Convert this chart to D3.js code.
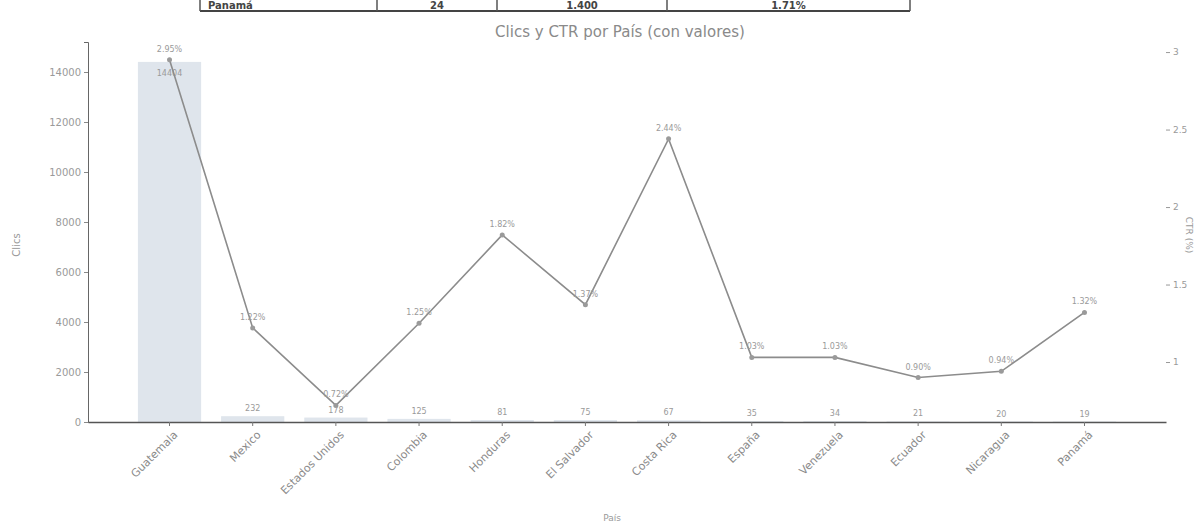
<!DOCTYPE html>
<html>
<head>
<meta charset="utf-8">
<script src="https://cdn.jsdelivr.net/npm/d3@7"></script>
<style>
  html, body { margin: 0; padding: 0; background: #fff; }
  svg { display: block; font-family: "DejaVu Sans", Verdana, sans-serif; }
</style>
</head>
<body>
<svg id="chart" width="1196" height="528"></svg>
<script>
// ---- data ----
const countries = ["Guatemala", "Mexico", "Estados Unidos", "Colombia", "Honduras", "El Salvador",
                   "Costa Rica", "España", "Venezuela", "Ecuador", "Nicaragua", "Panamá"];
const clics = [14404, 232, 178, 125, 81, 75, 67, 35, 34, 21, 20, 19];
const ctr = [2.95, 1.22, 0.72, 1.25, 1.82, 1.37, 2.44, 1.03, 1.03, 0.90, 0.94, 1.32];
const clicsTicks = [0, 2000, 4000, 6000, 8000, 10000, 12000, 14000];
const ctrTicks = [1, 1.5, 2, 2.5, 3];
const tableRow = ["Panamá", "24", "1.400", "1.71%"];

(function () {
const svg = d3.select("#chart");
const mLeft = 88, mRight = 1166, mTop = 42, mBottom = 422;

const x = d3.scaleBand().domain(countries).range([mLeft, mRight]).paddingInner(0.24).paddingOuter(0.6);
const yL = d3.scaleLinear().domain([0, 15200]).range([mBottom, mTop]);
const yR = d3.scaleLinear().domain([0.613, 3.065]).range([mBottom, mTop]);

const textCol = "#9a9a9a";

// partial table row at top
const cols = [200, 377, 497, 667, 910];
const tbl = svg.append("g");
tbl.append("line").attr("x1", cols[0]).attr("x2", cols[4]).attr("y1", 11).attr("y2", 11)
  .attr("stroke", "#444").attr("stroke-width", 2);
cols.forEach(c => tbl.append("line").attr("x1", c).attr("x2", c).attr("y1", 0).attr("y2", 11)
  .attr("stroke", "#555").attr("stroke-width", 1.5));
tableRow.forEach((t, i) => {
  tbl.append("text").attr("x", i === 0 ? cols[0] + 8 : (cols[i] + cols[i + 1]) / 2)
    .attr("y", 9).attr("text-anchor", i === 0 ? "start" : "middle")
    .attr("font-size", 10).attr("font-weight", "bold").attr("fill", "#444").text(t);
});

// title
svg.append("text").attr("x", 620).attr("y", 37).attr("text-anchor", "middle")
  .attr("font-size", 15).attr("fill", "#8a8a8a").text("Clics y CTR por País (con valores)");

// bars
svg.append("g").selectAll("rect").data(countries).join("rect")
  .attr("x", d => x(d)).attr("width", x.bandwidth())
  .attr("y", (d, i) => yL(clics[i])).attr("height", (d, i) => mBottom - yL(clics[i]))
  .attr("fill", "#dfe5ec");

// bar labels (tall bar: label just inside the top)
svg.append("g").selectAll("text").data(countries).join("text")
  .attr("x", d => x(d) + x.bandwidth() / 2)
  .attr("y", (d, i) => clics[i] > 10000 ? yL(clics[i]) + 14 : yL(clics[i]) - 5)
  .attr("text-anchor", "middle").attr("font-size", 8).attr("fill", textCol)
  .text((d, i) => clics[i]);

// left axis
const axL = svg.append("g").attr("transform", `translate(${mLeft},0)`)
  .call(d3.axisLeft(yL).tickValues(clicsTicks).tickSize(4).tickFormat(d3.format("d")));
axL.select(".domain").attr("stroke", "#666");
axL.selectAll(".tick line").attr("stroke", "#888");
axL.selectAll(".tick text").attr("fill", textCol).attr("font-size", 10).attr("font-family", "DejaVu Sans");

// right axis
const axR = svg.append("g").attr("transform", `translate(${mRight},0)`)
  .call(d3.axisRight(yR).tickValues(ctrTicks).tickSize(4).tickPadding(3).tickFormat(d => d));
axR.select(".domain").attr("stroke", "none");
axR.selectAll(".tick line").attr("stroke", "#999");
axR.selectAll(".tick text").attr("fill", textCol).attr("font-size", 9).attr("font-family", "DejaVu Sans");

// x axis
const axX = svg.append("g").attr("transform", `translate(0,${mBottom})`)
  .call(d3.axisBottom(x).tickSize(4).tickSizeOuter(0));
axX.select(".domain").attr("stroke", "#555").attr("stroke-width", 1.5);
axX.selectAll(".tick line").attr("stroke", "#777");
axX.selectAll(".tick text").attr("fill", "#8a8a8a").attr("font-size", 11).attr("font-family", "DejaVu Sans")
  .attr("text-anchor", "end").attr("dx", "-0.3em").attr("dy", "0.8em")
  .attr("transform", "rotate(-45)");

// CTR line
const line = d3.line().x((d, i) => x(countries[i]) + x.bandwidth() / 2).y(d => yR(d));
svg.append("path").datum(ctr).attr("d", line).attr("fill", "none")
  .attr("stroke", "#8c8c8c").attr("stroke-width", 1.6);
svg.append("g").selectAll("circle").data(ctr).join("circle")
  .attr("cx", (d, i) => x(countries[i]) + x.bandwidth() / 2).attr("cy", d => yR(d))
  .attr("r", 2.5).attr("fill", "#9a9a9a");
svg.append("g").selectAll("text").data(ctr).join("text")
  .attr("x", (d, i) => x(countries[i]) + x.bandwidth() / 2)
  .attr("y", d => yR(d) - 8)
  .attr("text-anchor", "middle").attr("font-size", 8).attr("fill", textCol)
  .text(d => d.toFixed(2) + "%");

// axis titles
svg.append("text").attr("transform", "translate(20,245) rotate(-90)").attr("text-anchor", "middle")
  .attr("font-size", 10).attr("fill", textCol).text("Clics");
svg.append("text").attr("transform", "translate(1186,235) rotate(90)").attr("text-anchor", "middle")
  .attr("font-size", 9).attr("fill", textCol).text("CTR (%)");
svg.append("text").attr("x", 612).attr("y", 521).attr("text-anchor", "middle")
  .attr("font-size", 9).attr("fill", textCol).text("País");
})();
</script>
</body>
</html>
